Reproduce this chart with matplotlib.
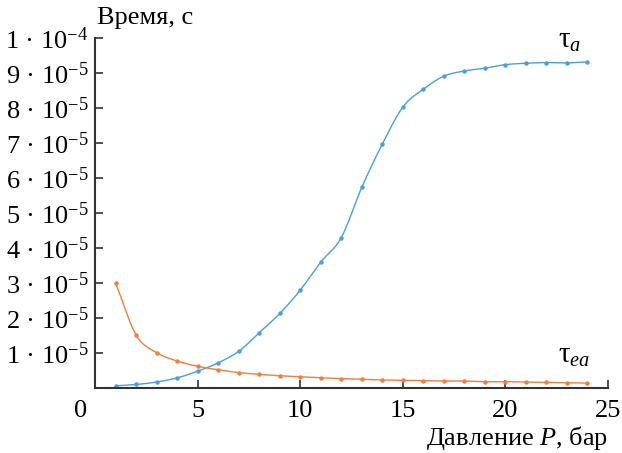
import numpy as np
import matplotlib
matplotlib.use('Agg')
from matplotlib import pyplot as plt

# давление, бар
P = [1, 2, 3, 4, 5, 6, 7, 8, 9, 10, 11, 12, 13, 14, 15, 16, 17, 18, 19, 20, 21, 22, 23, 24]

# tau_a, c
tau_a = [0.06e-5, 0.10e-5, 0.17e-5, 0.29e-5, 0.48e-5, 0.72e-5, 1.05e-5, 1.58e-5,
         2.13e-5, 2.80e-5, 3.60e-5, 4.30e-5, 5.74e-5, 6.97e-5, 8.03e-5, 8.54e-5,
         8.91e-5, 9.06e-5, 9.14e-5, 9.24e-5, 9.28e-5, 9.30e-5, 9.29e-5, 9.32e-5]

# tau_ea, c
tau_ea = [2.99e-5, 1.51e-5, 1.01e-5, 0.77e-5, 0.62e-5, 0.52e-5, 0.44e-5, 0.39e-5,
          0.35e-5, 0.32e-5, 0.29e-5, 0.27e-5, 0.25e-5, 0.23e-5, 0.22e-5, 0.21e-5,
          0.20e-5, 0.20e-5, 0.18e-5, 0.18e-5, 0.17e-5, 0.16e-5, 0.15e-5, 0.14e-5]

y_ticks = [1e-5, 2e-5, 3e-5, 4e-5, 5e-5, 6e-5, 7e-5, 8e-5, 9e-5, 1e-4]
y_labels = ['%d · 10$^{-5}$' % k for k in range(1, 10)] + ['1 · 10$^{-4}$']
x_ticks = [5, 10, 15, 20, 25]

blue = '#4a9fdc'
orange = '#f47d3a'

plt.rcParams['font.family'] = 'Liberation Serif'
plt.rcParams['mathtext.fontset'] = 'custom'
plt.rcParams['mathtext.rm'] = 'Liberation Serif'
plt.rcParams['mathtext.it'] = 'Liberation Serif:italic'
plt.rcParams['mathtext.default'] = 'regular'


def smooth(x, y, n=20):
    # catmull-rom для гладкої лінії через точки
    x = np.asarray(x, float)
    y = np.asarray(y, float)
    px = np.concatenate([[2 * x[0] - x[1]], x, [2 * x[-1] - x[-2]]])
    py = np.concatenate([[2 * y[0] - y[1]], y, [2 * y[-1] - y[-2]]])
    xs, ys = [], []
    t = np.linspace(0, 1, n, endpoint=False)
    for i in range(1, len(px) - 2):
        for arr, out in ((px, xs), (py, ys)):
            p0, p1, p2, p3 = arr[i - 1], arr[i], arr[i + 1], arr[i + 2]
            out.extend(0.5 * ((2 * p1) + (-p0 + p2) * t
                              + (2 * p0 - 5 * p1 + 4 * p2 - p3) * t ** 2
                              + (-p0 + 3 * p1 - 3 * p2 + p3) * t ** 3))
    xs.append(x[-1])
    ys.append(y[-1])
    return xs, ys


fig = plt.figure(figsize=(6.22, 4.53), dpi=100)
ax = fig.add_axes([0.153, 0.1435, 0.8245, 0.7725])

for data, c in ((tau_a, blue), (tau_ea, orange)):
    sx, sy = smooth(P, data)
    ax.plot(sx, sy, color=c, lw=1.0)
    ax.plot(P, data, 'o', color=c, ms=3.2, mec='none')

ax.set_xlim(0, 25)
ax.set_ylim(0, 1e-4)
ax.set_xticks(x_ticks)
ax.set_yticks(y_ticks)
ax.set_yticklabels(y_labels)
ax.tick_params(direction='in', length=6, width=1.2, labelsize=19, colors='#333333',
               labelcolor='black')
ax.tick_params(axis='x', pad=9)
ax.tick_params(axis='y', pad=5)
for s in ('top', 'right'):
    ax.spines[s].set_visible(False)
for s in ('left', 'bottom'):
    ax.spines[s].set_linewidth(1.5)
    ax.spines[s].set_color('#333333')

ax.text(-0.029, -0.033, '0', transform=ax.transAxes, fontsize=19, ha='center', va='top')
ax.text(0.003, 1.025, 'Время, с', transform=ax.transAxes, fontsize=19, ha='left', va='bottom')
ax.text(1.0, -0.143, 'Давление $\\mathit{P}$, бар', transform=ax.transAxes, fontsize=19,
        ha='right', va='center')
ax.text(22.55, 9.55e-5, 'τ$_{\\mathit{a}}$', fontsize=21, ha='left', va='bottom')
ax.text(22.55, 0.55e-5, 'τ$_{\\mathit{ea}}$', fontsize=21, ha='left', va='bottom')

plt.savefig('out.png', dpi=100)
